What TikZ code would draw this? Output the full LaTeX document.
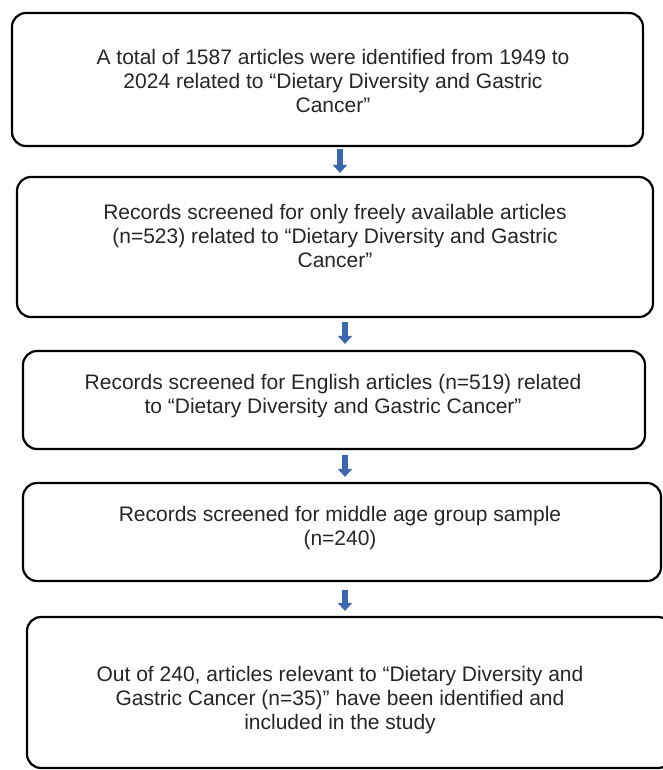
\documentclass[tikz,border=0pt]{standalone}
\usepackage{fontspec}
\setmainfont{Liberation Sans}
\usetikzlibrary{arrows.meta}
\usepackage{xcolor}
\definecolor{arrowblue}{HTML}{3B66B0}
\definecolor{txtgray}{HTML}{262626}

\begin{document}
\begin{tikzpicture}[x=1pt,y=1pt,
  box/.style={draw, line width=2.2pt, rounded corners=14pt, inner sep=0pt},
  txt/.style={align=center, font=\fontsize{21}{24}\selectfont, text=txtgray, inner sep=0pt},
  flow/.style={-{Triangle[width=14pt,length=8pt]}, line width=5.5pt, draw=arrowblue}]
  \clip (0,0) rectangle (663,-770);
  \fill[white] (0,0) rectangle (663,-770);
  % boxes
  \node (b1) [box, minimum width=631pt, minimum height=133pt] at (327.5,-79.5) {};
  \node (b2) [box, minimum width=636pt, minimum height=140pt] at (335,-247) {};
  \node (b3) [box, minimum width=622pt, minimum height=98pt] at (334,-400) {};
  \node (b4) [box, minimum width=638pt, minimum height=98pt] at (342,-532) {};
  \node (b5) [box, minimum width=645pt, minimum height=151pt] at (349.5,-692.5) {};
  % texts
  \node (t1) [txt] at (333,-81) {A total of 1587 articles were identified from 1949 to\\2024 related to “Dietary Diversity and Gastric\\Cancer”};
  \node (t2) [txt] at (335,-236) {Records screened for only freely available articles\\(n=523) related to “Dietary Diversity and Gastric\\Cancer”};
  \node (t3) [txt] at (333,-396) {Records screened for English articles (n=519) related\\to “Dietary Diversity and Gastric Cancer”};
  \node (t4) [txt] at (340,-528.5) {Records screened for middle age group sample\\(n=240)};
  \node (t5) [txt] at (340,-700) {Out of 240, articles relevant to “Dietary Diversity and\\Gastric Cancer (n=35)” have been identified and\\included in the study};
  % arrows
  \draw[flow, shorten <=2pt, shorten >=3pt] ([xshift=12.5pt]b1.south) -- ([xshift=5pt]b2.north);
  \draw[flow, shorten <=4pt, shorten >=6pt] ([xshift=10pt]b2.south) -- ([xshift=11pt]b3.north);
  \draw[flow, shorten <=5pt, shorten >=5pt] ([xshift=11pt]b3.south) -- ([xshift=3pt]b4.north);
  \draw[flow, shorten <=8pt, shorten >=5pt] ([xshift=3pt]b4.south) -- ([xshift=-4.5pt]b5.north);
\end{tikzpicture}
\end{document}
